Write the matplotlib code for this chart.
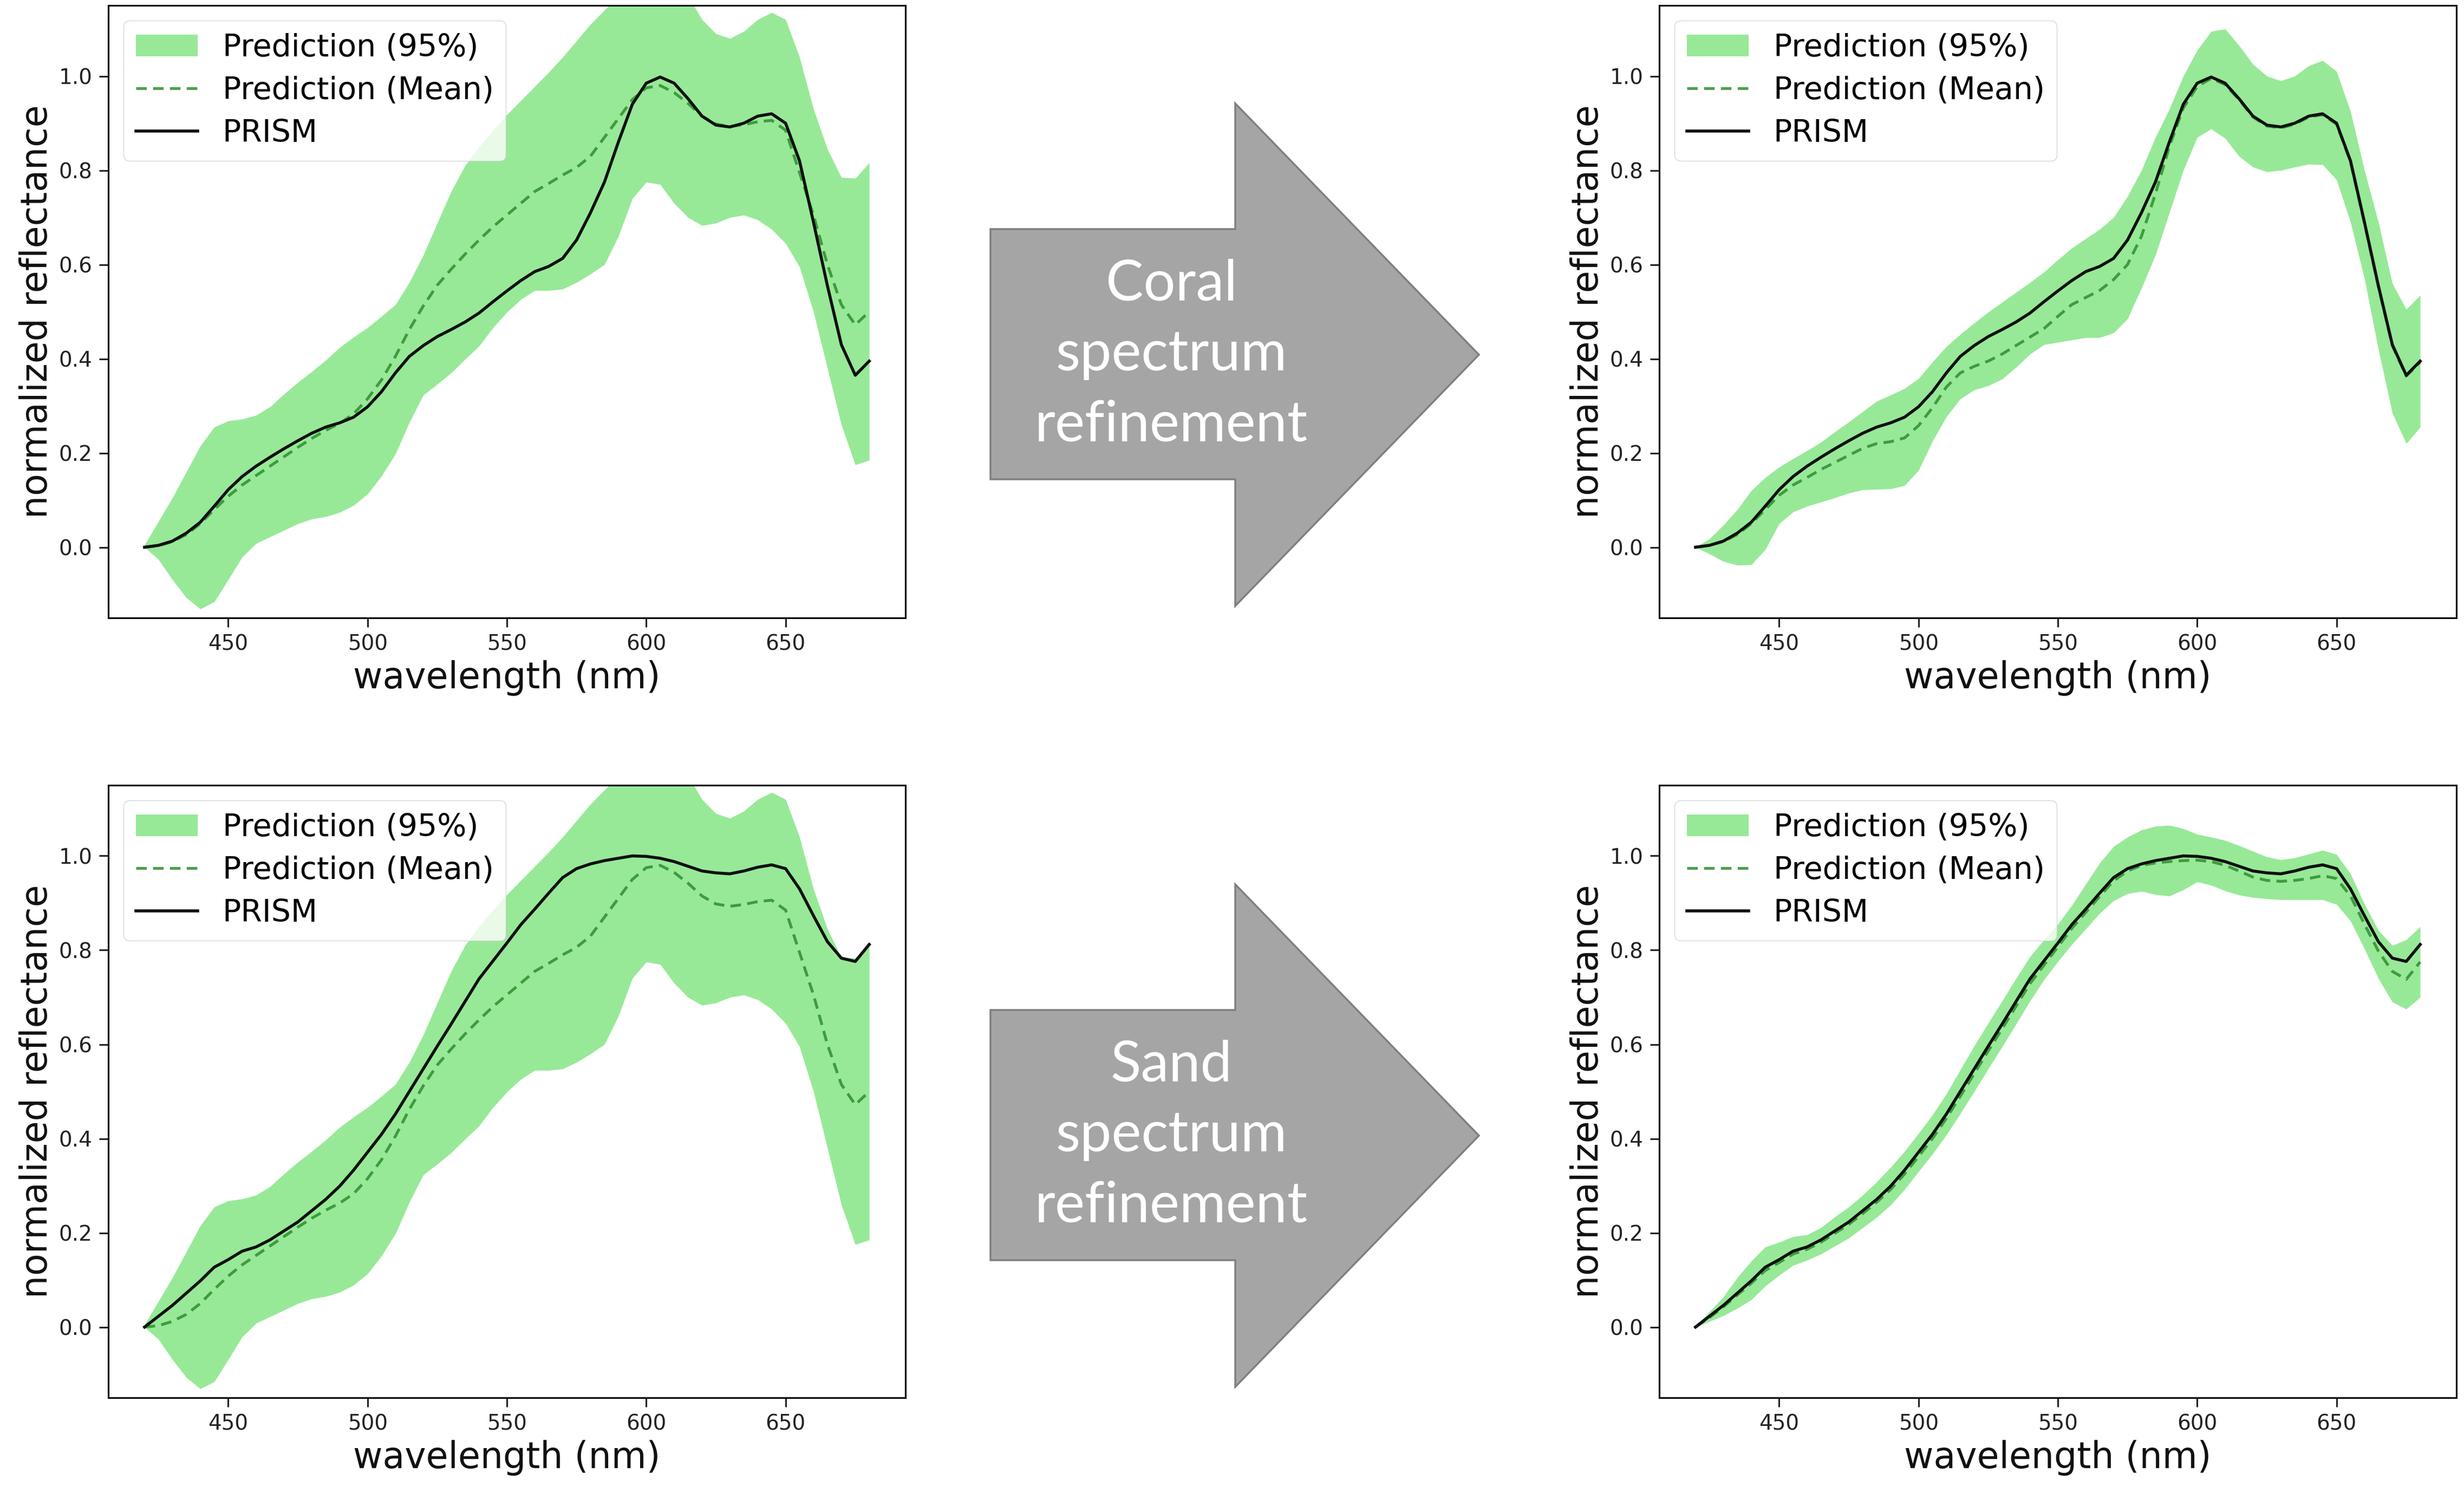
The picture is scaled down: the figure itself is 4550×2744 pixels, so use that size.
import matplotlib
matplotlib.use("Agg")
import matplotlib.pyplot as plt
from matplotlib.patches import Polygon

# ---------------- data ----------------
wavelength = [420, 425, 430, 435, 440, 445, 450, 455, 460, 465, 470, 475, 480, 485, 490,
              495, 500, 505, 510, 515, 520, 525, 530, 535, 540, 545, 550, 555, 560, 565,
              570, 575, 580, 585, 590, 595, 600, 605, 610, 615, 620, 625, 630, 635, 640,
              645, 650, 655, 660, 665, 670, 675, 680]

prism_coral = [0.0, 0.004, 0.013, 0.03, 0.053, 0.087, 0.122, 0.15, 0.172, 0.191, 0.209, 0.226, 0.242, 0.255, 0.264,
               0.276, 0.298, 0.33, 0.37, 0.405, 0.428, 0.447, 0.462, 0.478, 0.497, 0.521, 0.544, 0.566, 0.585, 0.596,
               0.613, 0.652, 0.71, 0.775, 0.86, 0.94, 0.985, 0.998, 0.985, 0.952, 0.915, 0.896, 0.892, 0.9, 0.915,
               0.92, 0.9, 0.82, 0.69, 0.555, 0.43, 0.365, 0.395]

prism_sand = [0.0, 0.023, 0.046, 0.072, 0.098, 0.127, 0.143, 0.161, 0.17, 0.185, 0.204, 0.223, 0.247, 0.271, 0.299,
              0.333, 0.371, 0.409, 0.452, 0.5, 0.548, 0.596, 0.643, 0.691, 0.739, 0.777, 0.815, 0.854, 0.887, 0.921,
              0.954, 0.973, 0.983, 0.99, 0.995, 1.0, 0.999, 0.995, 0.988, 0.978, 0.968, 0.964, 0.962, 0.968, 0.976,
              0.981, 0.973, 0.93, 0.873, 0.818, 0.783, 0.776, 0.812]

prior_mean = [0.0, 0.003, 0.012, 0.027, 0.05, 0.08, 0.108, 0.132, 0.152, 0.172, 0.192, 0.212, 0.231, 0.248, 0.263,
              0.283, 0.315, 0.355, 0.405, 0.462, 0.512, 0.556, 0.59, 0.622, 0.652, 0.68, 0.705, 0.73, 0.755, 0.772,
              0.79, 0.806, 0.83, 0.87, 0.91, 0.95, 0.975, 0.98, 0.965, 0.942, 0.915, 0.898, 0.893, 0.897, 0.903,
              0.906, 0.885, 0.795, 0.705, 0.6, 0.515, 0.472, 0.5]

prior_upper = [0.005, 0.055, 0.105, 0.16, 0.215, 0.255, 0.268, 0.272, 0.28, 0.298, 0.325, 0.35, 0.373, 0.397, 0.424,
               0.446, 0.466, 0.49, 0.515, 0.562, 0.62, 0.688, 0.755, 0.81, 0.85, 0.885, 0.918, 0.948, 0.978, 1.008,
               1.04, 1.075, 1.11, 1.14, 1.17, 1.2, 1.22, 1.23, 1.21, 1.17, 1.12, 1.09, 1.08, 1.095, 1.12,
               1.135, 1.12, 1.04, 0.93, 0.845, 0.785, 0.783, 0.816]

prior_lower = [0.0, -0.026, -0.069, -0.107, -0.131, -0.116, -0.069, -0.021, 0.008, 0.022, 0.036, 0.05, 0.06, 0.065, 0.074,
               0.089, 0.113, 0.151, 0.198, 0.265, 0.323, 0.346, 0.37, 0.399, 0.427, 0.466, 0.499, 0.526, 0.545, 0.545,
               0.548, 0.562, 0.58, 0.6, 0.66, 0.74, 0.775, 0.77, 0.73, 0.7, 0.683, 0.688, 0.7, 0.705, 0.695,
               0.675, 0.645, 0.595, 0.5, 0.38, 0.26, 0.175, 0.185]

coral_mean = [0.0, 0.004, 0.012, 0.027, 0.05, 0.08, 0.11, 0.132, 0.148, 0.165, 0.18, 0.195, 0.21, 0.22, 0.224,
              0.232, 0.258, 0.296, 0.34, 0.37, 0.384, 0.395, 0.41, 0.428, 0.446, 0.464, 0.49, 0.515, 0.53, 0.545,
              0.568, 0.6, 0.66, 0.75, 0.85, 0.932, 0.978, 0.995, 0.982, 0.95, 0.913, 0.894, 0.89, 0.898, 0.913,
              0.918, 0.898, 0.818, 0.688, 0.553, 0.428, 0.363, 0.393]

coral_upper = [0.0, 0.018, 0.047, 0.08, 0.12, 0.148, 0.17, 0.188, 0.205, 0.223, 0.245, 0.266, 0.288, 0.31, 0.323,
               0.337, 0.358, 0.393, 0.426, 0.452, 0.476, 0.499, 0.52, 0.541, 0.562, 0.584, 0.61, 0.635, 0.655, 0.675,
               0.7, 0.745, 0.8, 0.87, 0.93, 1.0, 1.055, 1.095, 1.1, 1.065, 1.025, 1.0, 0.99, 1.0, 1.022,
               1.033, 1.01, 0.925, 0.8, 0.69, 0.56, 0.505, 0.535]

coral_lower = [0.0, -0.014, -0.03, -0.038, -0.037, -0.005, 0.05, 0.075, 0.087, 0.096, 0.105, 0.115, 0.122, 0.123, 0.124,
               0.131, 0.163, 0.225, 0.277, 0.315, 0.334, 0.343, 0.357, 0.382, 0.41, 0.43, 0.435, 0.44, 0.445, 0.445,
               0.455, 0.485, 0.55, 0.62, 0.71, 0.8, 0.87, 0.888, 0.868, 0.83, 0.807, 0.797, 0.8, 0.807, 0.813,
               0.812, 0.78, 0.69, 0.57, 0.42, 0.285, 0.22, 0.255]

sand_mean = [0.0, 0.02, 0.043, 0.068, 0.093, 0.12, 0.137, 0.155, 0.165, 0.18, 0.199, 0.218, 0.241, 0.265, 0.292,
             0.325, 0.362, 0.4, 0.443, 0.49, 0.538, 0.586, 0.633, 0.681, 0.729, 0.768, 0.807, 0.846, 0.88, 0.914,
             0.947, 0.968, 0.98, 0.985, 0.988, 0.99, 0.991, 0.988, 0.98, 0.968, 0.955, 0.948, 0.946, 0.948, 0.952,
             0.958, 0.952, 0.915, 0.855, 0.798, 0.755, 0.738, 0.775]

sand_upper = [0.0, 0.033, 0.064, 0.105, 0.14, 0.17, 0.18, 0.192, 0.196, 0.211, 0.234, 0.255, 0.28, 0.308, 0.339,
              0.373, 0.411, 0.45, 0.495, 0.546, 0.597, 0.645, 0.692, 0.74, 0.786, 0.822, 0.855, 0.895, 0.94, 0.985,
              1.02, 1.04, 1.055, 1.063, 1.065, 1.058, 1.046, 1.04, 1.033, 1.022, 1.01, 0.998, 0.992, 0.996, 1.004,
              1.012, 1.003, 0.962, 0.898, 0.842, 0.81, 0.822, 0.85]

sand_lower = [0.0, 0.012, 0.024, 0.04, 0.058, 0.087, 0.11, 0.131, 0.142, 0.155, 0.172, 0.189, 0.211, 0.233, 0.259,
              0.292, 0.33, 0.367, 0.408, 0.453, 0.5, 0.548, 0.595, 0.643, 0.692, 0.737, 0.776, 0.812, 0.845, 0.878,
              0.905, 0.92, 0.925, 0.918, 0.915, 0.928, 0.945, 0.938, 0.926, 0.917, 0.912, 0.909, 0.907, 0.907, 0.907,
              0.907, 0.897, 0.862, 0.803, 0.74, 0.69, 0.675, 0.7]

x_ticks = [450, 500, 550, 600, 650]
y_ticks = [0.0, 0.2, 0.4, 0.6, 0.8, 1.0]
legend_labels = ["Prediction (95%)", "Prediction (Mean)", "PRISM"]
arrow_texts = ["Coral\nspectrum\nrefinement", "Sand\nspectrum\nrefinement"]

# ---------------- figure ----------------
W, H = 4550, 2744
fig = plt.figure(figsize=(W / 100, H / 100), dpi=100)

FILL = "#97e997"
MEAN_C = "#2f8f2f"

def panel(rect, lower, upper, mean, prism):
    ax = fig.add_axes(rect)
    ax.fill_between(wavelength, lower, upper, color=FILL, linewidth=0, label=legend_labels[0])
    ax.plot(wavelength, mean, "--", color=MEAN_C, alpha=0.85, lw=3.8, dashes=(3.7, 2.2),
            solid_joinstyle="round", dash_joinstyle="round", label=legend_labels[1])
    ax.plot(wavelength, prism, "-", color="#111111", lw=4.0, solid_joinstyle="round",
            label=legend_labels[2])
    ax.set_ylim(-0.15, 1.15)
    ax.set_xticks(x_ticks)
    ax.set_yticks(y_ticks)
    ax.set_yticklabels([f"{v:.1f}" for v in y_ticks])
    ax.tick_params(labelsize=28, length=12, width=2.2, pad=9, colors="#222222")
    for s in ax.spines.values():
        s.set_linewidth(2.2)
    ax.set_xlabel("wavelength (nm)", fontsize=48, labelpad=8, color="#111111")
    ax.set_ylabel("normalized reflectance", fontsize=48, labelpad=6, color="#111111")
    ax.legend(loc="upper left", fontsize=41, labelspacing=0.42)
    return ax

wfrac = 1472 / W
hfrac = 1131 / H
top_b = 1 - 1141 / H
bot_b = 1 - 2581 / H
left_l = 200 / W
left_r = 3064 / W

panel([left_l, top_b, wfrac, hfrac], prior_lower, prior_upper, prior_mean, prism_coral)
panel([left_r, top_b, wfrac, hfrac], coral_lower, coral_upper, coral_mean, prism_coral)
panel([left_l, bot_b, wfrac, hfrac], prior_lower, prior_upper, prior_mean, prism_sand)
panel([left_r, bot_b, wfrac, hfrac], sand_lower, sand_upper, sand_mean, prism_sand)

# arrows (overlay in pixel coordinates)
ov = fig.add_axes([0, 0, 1, 1], zorder=-1)
ov.set_xlim(0, W)
ov.set_ylim(H, 0)
ov.axis("off")

def arrow(dy, text):
    pts = [(1829, 423 + dy), (2281, 423 + dy), (2281, 191 + dy), (2731, 655 + dy),
           (2281, 1119 + dy), (2281, 885 + dy), (1829, 885 + dy)]
    ov.add_patch(Polygon(pts, closed=True, facecolor="#a5a5a5", edgecolor="#7f7f7f", lw=2.5))
    ov.text(2163, 655 + dy, text, ha="center", va="center", color="white",
            fontsize=75, family=["Lato", "DejaVu Sans"], linespacing=1.45)

arrow(0, arrow_texts[0])
arrow(1442, arrow_texts[1])

fig.savefig("out.png", dpi=100)
